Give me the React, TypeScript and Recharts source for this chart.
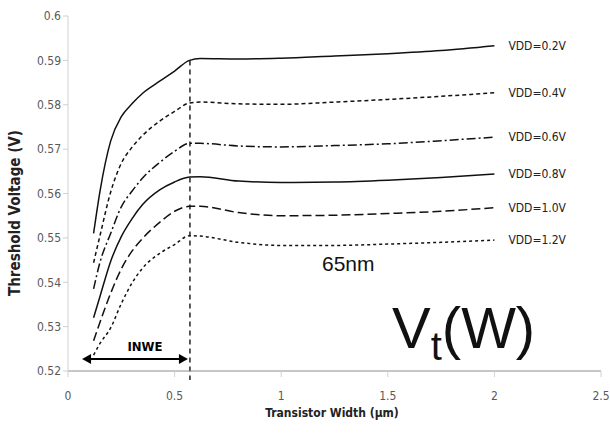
import React from "react";
import { LineChart, Line, XAxis, YAxis, ReferenceLine } from "recharts";

const widths = [0.12, 0.15, 0.2, 0.25, 0.3, 0.35, 0.43, 0.5, 0.57, 0.62, 0.8, 1.0, 1.25, 1.5, 1.75, 2.0];
const vdd02 = [0.551, 0.5605, 0.5718, 0.5773, 0.5802, 0.5826, 0.5853, 0.5876, 0.59, 0.5904, 0.5903, 0.5905, 0.591, 0.5915, 0.5922, 0.5933];
const vdd04 = [0.5444, 0.5505, 0.5603, 0.5668, 0.5704, 0.5731, 0.5763, 0.5785, 0.5804, 0.5806, 0.5802, 0.5801, 0.5806, 0.5812, 0.5819, 0.5827];
const vdd06 = [0.5385, 0.5445, 0.551, 0.557, 0.5605, 0.5635, 0.567, 0.5695, 0.5713, 0.5713, 0.5707, 0.5705, 0.5708, 0.5712, 0.5719, 0.5727];
const vdd08 = [0.532, 0.5368, 0.5447, 0.5503, 0.5543, 0.5575, 0.5608, 0.5626, 0.5637, 0.5638, 0.5628, 0.5625, 0.5626, 0.563, 0.5636, 0.5644];
const vdd10 = [0.5268, 0.531, 0.5375, 0.543, 0.547, 0.5499, 0.5535, 0.556, 0.5571, 0.5571, 0.5557, 0.555, 0.5551, 0.5555, 0.556, 0.5568];
const vdd12 = [0.5236, 0.5262, 0.5297, 0.5352, 0.5398, 0.5432, 0.5465, 0.5485, 0.5505, 0.5504, 0.549, 0.5483, 0.5483, 0.5486, 0.549, 0.5495];

const xTicks = [0, 0.5, 1, 1.5, 2, 2.5];
const yTicks = [0.52, 0.53, 0.54, 0.55, 0.56, 0.57, 0.58, 0.59, 0.6];

const series = [
  { key: "v02", name: "VDD=0.2V", values: vdd02, dash: undefined },
  { key: "v04", name: "VDD=0.4V", values: vdd04, dash: "4 3" },
  { key: "v06", name: "VDD=0.6V", values: vdd06, dash: "9 3 2 3" },
  { key: "v08", name: "VDD=0.8V", values: vdd08, dash: undefined },
  { key: "v10", name: "VDD=1.0V", values: vdd10, dash: "9 4" },
  { key: "v12", name: "VDD=1.2V", values: vdd12, dash: "3 3" },
];

const data = widths.map((w, i) => {
  const row: Record<string, number> = { w };
  series.forEach((s) => (row[s.key] = s.values[i]));
  return row;
});

const narrow = "'Liberation Sans Narrow', 'DejaVu Sans Condensed', sans-serif";

const endLabel = (name: string) => (props: any) => {
  const { x, y, index } = props;
  if (index !== widths.length - 1) return null;
  return (
    <text x={x + 14} y={y + 4} fontSize={12} fontFamily={narrow} fill="#222">
      {name}
    </text>
  );
};

const arrowShape = (props: any) => {
  const { x1, y1, x2, y2 } = props;
  return (
    <g>
      <line x1={x1 + 6} y1={y1} x2={x2 - 6} y2={y2} stroke="#000" strokeWidth={2} />
      <polygon points={`${x1},${y1} ${x1 + 9},${y1 - 5} ${x1 + 9},${y1 + 5}`} fill="#000" />
      <polygon points={`${x2},${y2} ${x2 - 9},${y2 - 5} ${x2 - 9},${y2 + 5}`} fill="#000" />
      <text x={(x1 + x2) / 2 + 10} y={y1 - 8} textAnchor="middle" fontSize={13} fontWeight="bold" fontFamily={narrow} fill="#000">
        INWE
      </text>
    </g>
  );
};

export default function App() {
  return (
    <div style={{ position: "absolute", left: 0, top: 0, width: 610, height: 441, background: "#fff" }}>
      <LineChart width={610} height={441} data={data} margin={{ top: 16, right: 9, bottom: 40, left: 18 }}>
        <XAxis
          dataKey="w"
          type="number"
          domain={[0, 2.5]}
          ticks={xTicks}
          tick={{ fontSize: 12, fill: "#595959", fontFamily: narrow }}
          axisLine={{ stroke: "#8c8c8c" }}
          tickLine={{ stroke: "#d0d0d0" }}
          tickSize={6}
          tickMargin={14}
          height={30}
        />
        <YAxis
          type="number"
          domain={[0.52, 0.6]}
          ticks={yTicks}
          tickFormatter={(v: number) => String(Number(v.toFixed(2)))}
          tick={{ fontSize: 12, fill: "#595959", fontFamily: narrow }}
          axisLine={{ stroke: "#d0d0d0" }}
          tickLine={{ stroke: "#d0d0d0" }}
          tickSize={5}
          width={50}
          allowDataOverflow
        />
        <ReferenceLine
          segment={[{ x: 0.572, y: 0.59 }, { x: 0.572, y: 0.518 }]}
          stroke="#000"
          strokeWidth={1.3}
          strokeDasharray="5 4"
          ifOverflow="visible"
        />
        <ReferenceLine
          segment={[{ x: 0.066, y: 0.5227 }, { x: 0.5625, y: 0.5227 }]}
          shape={arrowShape}
          ifOverflow="visible"
        />
        {series.map((s) => (
          <Line
            key={s.key}
            dataKey={s.key}
            type="monotone"
            stroke="#111"
            strokeWidth={1.5}
            strokeDasharray={s.dash}
            dot={false}
            isAnimationActive={false}
            label={endLabel(s.name)}
          />
        ))}
      </LineChart>
      <div style={{ position: "absolute", left: 0, top: 406, width: 664, textAlign: "center", fontFamily: narrow, fontSize: 12, fontWeight: "bold", color: "#222" }}>
        Transistor Width (µm)
      </div>
      <div
        style={{
          position: "absolute", left: 15, top: 213, transform: "translate(-50%, -50%) rotate(-90deg)",
          whiteSpace: "nowrap", fontFamily: narrow, fontSize: 15, fontWeight: "bold", color: "#222",
        }}
      >
        Threshold Voltage (V)
      </div>
      <div style={{ position: "absolute", left: 322, top: 252, fontFamily: "'Liberation Sans', Arial, sans-serif", fontSize: 21, color: "#111" }}>
        65nm
      </div>
      <div style={{ position: "absolute", left: 392, top: 299, fontFamily: "'Liberation Sans', Arial, sans-serif", fontSize: 58, color: "#111", lineHeight: 1, whiteSpace: "nowrap" }}>
        V<span style={{ fontSize: 40, position: "relative", top: 12 }}>t</span>(W)
      </div>
    </div>
  );
}
